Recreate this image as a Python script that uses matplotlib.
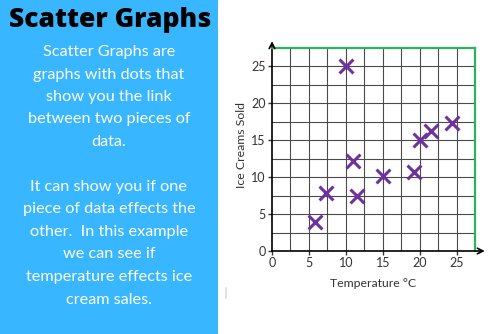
import matplotlib
matplotlib.use("Agg")
import matplotlib.pyplot as plt
from matplotlib.patches import Rectangle
from matplotlib.lines import Line2D

# data
temps = [5.8, 7.3, 10.0, 11.0, 11.5, 15.0, 19.2, 20.0, 21.6, 24.4]
sales = [3.9, 7.9, 25.1, 12.2, 7.5, 10.2, 10.7, 15.0, 16.3, 17.4]
ticks = [0, 5, 10, 15, 20, 25]

title = "Scatter Graphs"
body = ["Scatter Graphs are", "graphs with dots that", "show you the link",
        "between two pieces of", "data.", "",
        "It can show you if one", "piece of data effects the",
        "other.  In this example", "we can see if",
        "temperature effects ice", "cream sales."]

fig = plt.figure(figsize=(5, 3.34), dpi=100)
fig.patch.set_facecolor("white")

# blue text panel on the left
fig.patches.append(Rectangle((0, 0), 218 / 500, 1, transform=fig.transFigure,
                             facecolor="#38b6ff", edgecolor="none", zorder=0))
fig.text(110 / 500, 1 - 20 / 334, title, ha="center", va="center",
         fontsize=19, fontweight="heavy", family="Open Sans", color="black")
y0 = 52
for i, line in enumerate(body):
    fig.text(109 / 500, 1 - (y0 + i * 22.5) / 334, line, ha="center", va="center",
             fontsize=11.7, family="Lato", color="white")

# small grey mark below the chart
fig.lines.append(Line2D([226 / 500, 226 / 500], [1 - 288 / 334, 1 - 298 / 334],
                        transform=fig.transFigure, color="#dddddd", lw=1.2))

# scatter chart
ax = fig.add_axes([272 / 500, 83 / 334, 203 / 500, 203 / 334])
ax.set_xlim(0, 27.5)
ax.set_ylim(0, 27.5)
grid = [i * 2.5 for i in range(1, 11)]
for g in grid:
    ax.axvline(g, color="#4a4a4a", lw=0.8, zorder=1)
    ax.axhline(g, color="#4a4a4a", lw=0.8, zorder=1)
for s in ax.spines.values():
    s.set_color("#2db35d")
    s.set_linewidth(1.6)
ax.spines["left"].set_color("black")
ax.spines["bottom"].set_color("black")
ax.spines["left"].set_linewidth(1.2)
ax.spines["bottom"].set_linewidth(1.2)

ax.scatter(temps, sales, marker="x", s=100, color="#7030a0", linewidths=2.2,
           zorder=3, clip_on=False)

# axis arrows
ax.annotate("", xy=(29.2, 0), xytext=(27.3, 0),
            arrowprops=dict(arrowstyle="->", color="black", lw=1.2),
            annotation_clip=False)
ax.annotate("", xy=(0, 28.8), xytext=(0, 27.3),
            arrowprops=dict(arrowstyle="->", color="black", lw=1.2),
            annotation_clip=False)

ax.set_xticks(ticks)
ax.set_yticks(ticks)
ax.tick_params(length=3, width=1, labelsize=9, colors="#333333", pad=1.5)
for lab in ax.get_xticklabels() + ax.get_yticklabels():
    lab.set_family("Lato")
ax.set_xlabel("Temperature °C", fontsize=8.8, family="Lato", color="#333333", labelpad=6)
ax.set_ylabel("Ice Creams Sold", fontsize=8.8, family="Lato", color="#333333")
ax.yaxis.set_label_coords(-0.125, 0.52)

fig.savefig("out.png", dpi=100)
